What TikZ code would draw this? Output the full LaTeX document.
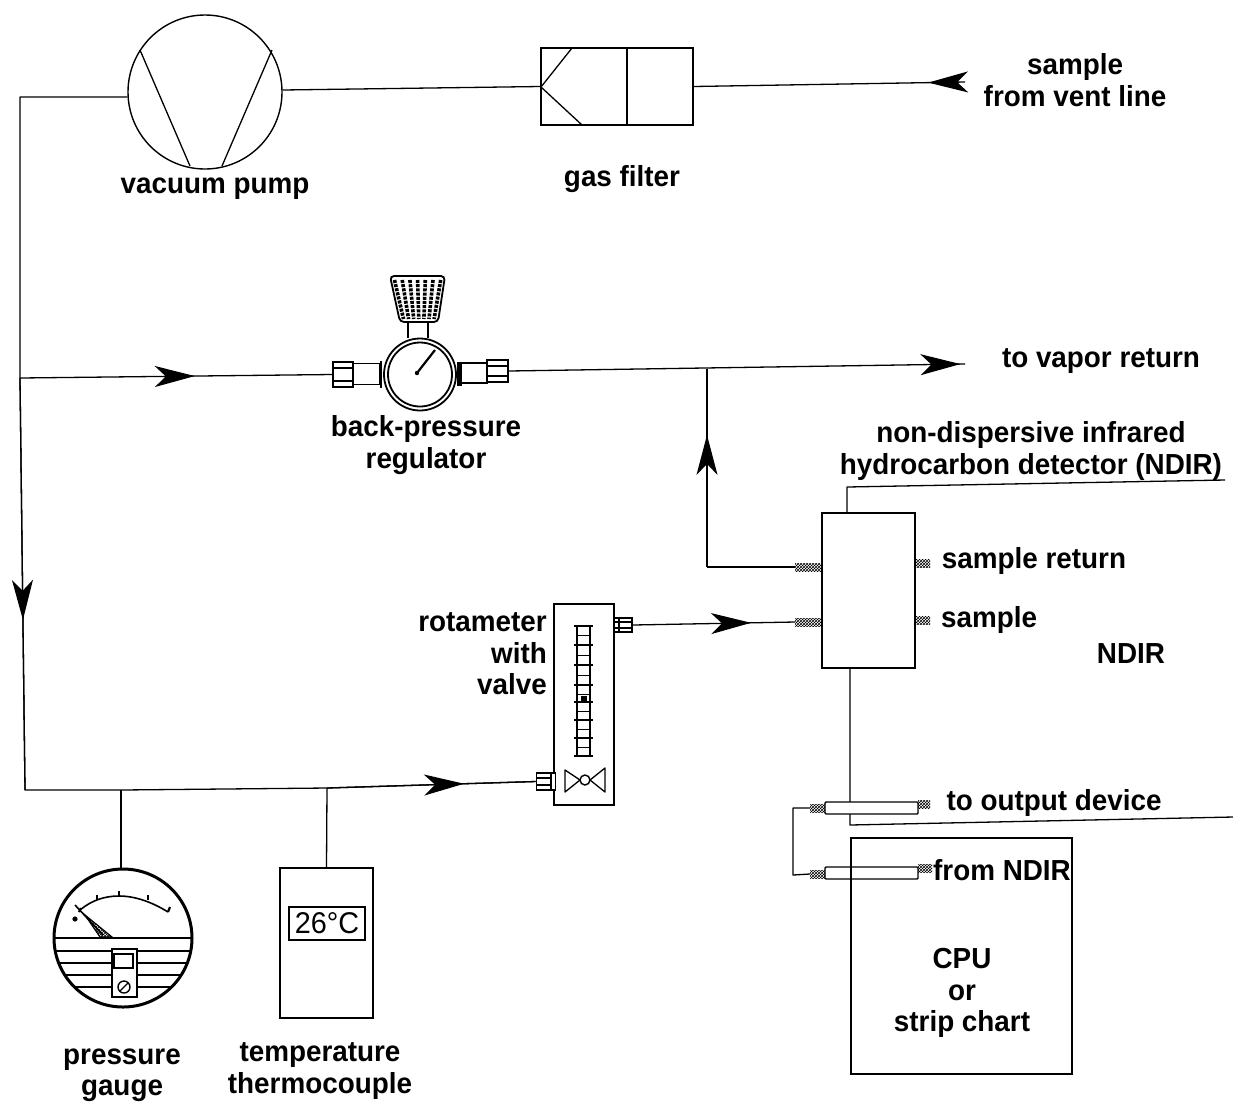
\documentclass[tikz,border=0pt]{standalone}
\usepackage{fontspec}
\setmainfont{Liberation Sans}[FakeStretch=0.96]
\usetikzlibrary{arrows.meta,decorations.markings,patterns}
\tikzset{
  x=1pt,y=-1pt,
  pipe/.style={line width=1.3pt,line join=round},
  equip/.style={draw,line width=1.4pt,inner sep=0pt,fill=white},
  label/.style={font=\bfseries\fontsize{29}{31.5}\selectfont,align=center,inner sep=0pt,yshift=-3pt},
  bigtip/.tip={Stealth[length=40pt,width=21pt,inset=11pt]},
  flow/.style={postaction={decorate,decoration={markings,mark=at position #1 with {\arrow{bigtip}}}}},
  stub/.style={pattern=crosshatch,pattern color=black,inner sep=0pt,minimum height=8pt},
  tube/.style={equip,minimum width=93pt,minimum height=12pt,rounded corners=1pt},
  fit/.style={draw,line width=1.6pt,fill=white,inner sep=0pt}
}
\begin{document}
\begin{tikzpicture}
\useasboundingbox[fill=white] (0,0) rectangle (1233,1104);
% junction and bend points
\coordinate (tl) at (20,97);
\coordinate (regj) at (20,378);
\coordinate (bl) at (25,790);
\coordinate (gaugej) at (121,790);
\coordinate (thermj) at (327,788);
\coordinate (outj) at (707,369);
\coordinate (retb) at (707,567);
\coordinate (sampleend) at (965,82);
\coordinate (vaporend) at (965,364);
\coordinate (dt1) at (847,487);
\coordinate (dt2) at (1225,480);
\coordinate (db1) at (850,825);
\coordinate (db2) at (1233,817);
\coordinate (cb1) at (793,808);
\coordinate (cb2) at (793,875);
% vacuum pump
\node[equip,circle,minimum size=154pt] (pump) at (205,92) {};
\draw[pipe] (140,50) -- (190,166) (272,50) -- (222,166);
% gas filter
\node[equip,minimum width=152pt,minimum height=77pt] (filter) at (617,86.5) {};
\draw[pipe] (627,48) -- (627,125);
\draw[pipe] (572,48) -- (541,87) -- (582,125);
% back-pressure regulator
\draw[line width=1.8pt,fill=white,rounded corners=4pt] (390,276) -- (445,276) -- (438,322) -- (400,322) -- cycle;
\foreach \i in {0,...,6}{
  \draw[line width=3.6pt,dash pattern=on 3pt off 1.2pt] ({394.5+\i*7.7},280) -- ({403.5+\i*5.1},319);
}
\draw[pipe] (408,322) -- (408,338) (428,322) -- (428,338);
\node[fit,minimum width=27pt,minimum height=21pt] (regtl) at (366.5,374) {};
\node[fit,minimum width=20pt,minimum height=25pt] (regl) at (343,374.5) {};
\draw[pipe] (334,368) -- (352,368) (334,381) -- (352,381);
\node[fit,minimum width=27pt,minimum height=20pt] (regtr) at (473.5,373) {};
\node[fit,minimum width=21pt,minimum height=22pt] (regr) at (497.5,371) {};
\draw[pipe] (488,366) -- (507,366) (488,376) -- (507,376);
\draw[line width=5pt] (459,362) -- (459,386);
\draw[line width=2pt] (381,361) -- (381,388);
\node[equip,circle,line width=1.8pt,minimum size=72pt] (reg) at (420,374.5) {};
\node[draw,circle,line width=1.8pt,minimum size=64pt,inner sep=0pt] (regdial) at (420,374.5) {};
\draw[line width=2.2pt] (417,373) -- (435,350);
\fill (417,373) circle (2.2pt);
% rotameter
\node[equip,minimum width=60pt,minimum height=201pt] (rota) at (584,704.5) {};
\node[fit,minimum width=18pt,minimum height=14pt] (rotaout) at (623,625) {};
\draw[pipe] (619,618) -- (619,632) (614,622) -- (632,622) (614,628) -- (632,628);
\node[fit,minimum width=19pt,minimum height=17pt] (rotain) at (546,781.5) {};
\draw[pipe] (551,773) -- (551,790) (537,778) -- (551,778) (537,785) -- (551,785);
\draw[pipe] (577,626) -- (577,756) (590,626) -- (590,756);
\foreach \y in {626,645,665,685,702,720,738,756}{\draw[pipe] (574,\y) -- (593,\y);}
\foreach \y in {635,655,675,694,711,729,747}{\draw[line width=1pt] (577,\y) -- (590,\y);}
\fill (581,696) rectangle (587,702);
\draw[pipe,fill=white] (565,770) -- (580,780) -- (565,792) -- cycle;
\draw[pipe,fill=white] (605,768) -- (590,780) -- (605,792) -- cycle;
\node[draw,circle,line width=1.4pt,minimum size=10pt,inner sep=0pt,fill=white] (valve) at (585,780) {};
% NDIR
\node[equip,minimum width=93pt,minimum height=155pt] (ndir) at (868.5,590.5) {};
\node[stub,minimum width=27pt] (ret) at (808.5,567) {};
\node[stub,minimum width=27pt] (samp) at (808.5,622) {};
\node[stub,minimum width=15pt] (ret2) at (922.5,563) {};
\node[stub,minimum width=15pt] (samp2) at (922.5,620) {};
% CPU box
\node[equip,minimum width=221pt,minimum height=236pt] (cpu) at (961.5,956) {};
% cables
\draw[pipe] (ndir.south -| db1) -- (db1) -- (db2);
\node[tube] (tube1) at (871.5,808) {};
\node[tube] (tube2) at (871.5,873) {};
\draw[pipe] (851,866) -- (851,880);
\node[stub,minimum width=15pt] (t1l) at (817.5,808) {};
\node[stub,minimum width=15pt] (t2l) at (817.5,874) {};
\node[stub,minimum width=12pt] (t1r) at (924,804) {};
\node[stub,minimum width=14pt] (t2r) at (925,868) {};
\draw[pipe] (t1l.west) -- (cb1) -- (cb2) -- (t2l.west);
% pressure gauge
\node[draw,circle,line width=3pt,minimum size=138pt,inner sep=0pt] (gauge) at (123,938) {};
\draw[pipe] (55,938) -- (191,938);
\draw[pipe] (55,951) -- (191,951) (59,963) -- (187,963) (65,975) -- (181,975) (74,987) -- (172,987);
\node[equip,minimum width=25pt,minimum height=48pt] (gbox) at (124.5,973) {};
\node[draw,line width=1.4pt,minimum width=19pt,minimum height=14pt,inner sep=0pt] (gwin) at (123.5,961) {};
\node[draw,circle,line width=1.4pt,minimum size=12pt,inner sep=0pt] (gscrew) at (124,987) {};
\draw[pipe] (120,991) -- (128,983);
\draw[line width=1.6pt] (80,910) .. controls (92,900) and (105,896) .. (119,896) .. controls (135,896) and (152,902) .. (168,912);
\foreach \a/\b/\c/\d in {97/900/97/895,119/896/119/891,148/900/148/895,168/912/170/907}{\draw[line width=2.2pt] (\a,\b) -- (\c,\d);}
\draw[line width=1.6pt] (75,905) -- (103,935);
\draw[line width=1.2pt,pattern=crosshatch] (85,915) -- (112,937) -- (100,937) -- cycle;
\fill (75,919) circle (2.6pt);
\draw[line width=2.2pt] (79,912) -- (81,908);
% thermocouple box
\node[equip,minimum width=93pt,minimum height=150pt] (therm) at (326.5,943) {};
\node[draw,line width=1.2pt,minimum width=76pt,minimum height=33pt,inner sep=0pt,font=\fontsize{30}{32}\selectfont] (disp) at (327,923.5) {26°C};
% piping
\draw[pipe] (pump.west |- tl) -- (tl) -- (regj) -- (bl) -- (gaugej) -- (thermj) -- (rotain.west);
\draw[pipe,flow=0.587] (regj) -- (bl);
\draw[pipe,flow=0.56] (regj) -- (regl.west);
\draw[pipe,flow=0.657] (thermj) -- (rotain.west);
\draw[pipe] (pump.east |- 0,90) -- (filter.west);
\draw[pipe,flow=0.136] (sampleend) -- (filter.east);
\draw[pipe,flow=0.99] (regr.east) -- (vaporend);
\draw[pipe,flow=0.667] (retb) -- (outj);
\draw[pipe] (ret.west) -- (retb);
\draw[pipe,flow=0.73] (rotaout.east) -- (samp.west);
\draw[pipe] (gaugej) -- (gaugej |- gauge.north);
\draw[pipe] (thermj) -- (therm.north);
\draw[pipe] (ndir.north -| dt1) -- (dt1) -- (dt2);
% labels
\node[label] (l1) at (1075,77) {sample\\from vent line};
\node[label] (l2) at (215,186) {vacuum pump};
\node[label] (l3) at (622,176) {gas filter};
\node[label] (l4) at (1101,358) {to vapor return};
\node[label] (l5) at (426,442) {back-pressure\\regulator};
\node[label] (l6) at (1031,448) {non-dispersive infrared\\hydrocarbon detector (NDIR)};
\node[label] (l7) at (1034,558) {sample return};
\node[label] (l8) at (989,617) {sample};
\node[label] (l9) at (1131,651) {NDIR};
\node[label,align=right,anchor=east] (l10) at (547,651) {rotameter\\with\\valve};
\node[label] (l11) at (1054,800) {to output device};
\node[label] (l12) at (1002,867) {from NDIR};
\node[label] (l13) at (962,990) {CPU\\or\\strip chart};
\node[label] (l14) at (122,1072) {pressure\\gauge};
\node[label] (l15) at (320,1068) {temperature\\thermocouple};
\end{tikzpicture}
\end{document}
